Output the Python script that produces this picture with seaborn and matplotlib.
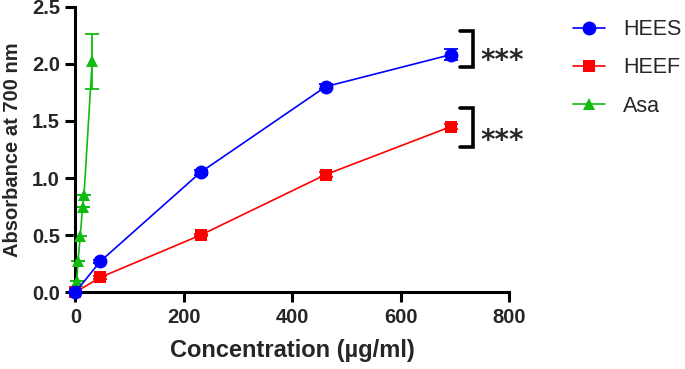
import matplotlib
matplotlib.use("Agg")
import matplotlib.pyplot as plt
import seaborn as sns
import pandas as pd
from matplotlib.lines import Line2D

# Data
hees_x = [0, 46, 231, 462, 693]
hees_y = [0.0, 0.27, 1.05, 1.80, 2.08]
hees_err = [0.0, 0.01, 0.02, 0.02, 0.05]

heef_x = [0, 46, 231, 462, 693]
heef_y = [0.0, 0.13, 0.50, 1.03, 1.45]
heef_err = [0.0, 0.01, 0.01, 0.02, 0.02]

asa_x = [2.5, 5, 9, 13.5, 16, 31]
asa_y = [0.10, 0.27, 0.49, 0.75, 0.85, 2.02]
asa_err = [0.0, 0.0, 0.0, 0.0, 0.0, 0.24]

series_names = ["HEES", "HEEF", "Asa"]
colors = {"HEES": "#0000FF", "HEEF": "#FF0000", "Asa": "#11BB11"}
markers = {"HEES": "o", "HEEF": "s", "Asa": "^"}
msizes = {"HEES": 10, "HEEF": 9, "Asa": 9}

df = pd.concat([
    pd.DataFrame({"x": hees_x, "y": hees_y, "err": hees_err, "s": "HEES"}),
    pd.DataFrame({"x": heef_x, "y": heef_y, "err": heef_err, "s": "HEEF"}),
    pd.DataFrame({"x": asa_x, "y": asa_y, "err": asa_err, "s": "Asa"}),
], ignore_index=True)

sns.set_theme(style="ticks")
plt.rcParams["font.family"] = ["Liberation Sans", "DejaVu Sans"]

fig = plt.figure(figsize=(6.85, 3.69), dpi=100)
ax = fig.add_axes([0.110, 0.208, 0.633, 0.774])

for name in series_names[::-1]:
    d = df[df["s"] == name]
    ax.errorbar(d["x"], d["y"], yerr=d["err"], fmt="none", ecolor=colors[name],
                elinewidth=1.3, capsize=5, capthick=1.3, clip_on=False, zorder=2)
    sns.lineplot(data=d, x="x", y="y", ax=ax, color=colors[name], marker=markers[name],
                 markersize=msizes[name], markeredgewidth=0, linewidth=1.2,
                 clip_on=False, zorder=3, legend=False, estimator=None)

ax.set_xlim(0, 800)
ax.set_ylim(0, 2.5)
ax.set_xticks([0, 200, 400, 600, 800])
ax.set_yticks([0, 0.5, 1.0, 1.5, 2.0, 2.5])
ax.set_yticklabels(["0.0", "0.5", "1.0", "1.5", "2.0", "2.5"])
for sp in ["top", "right"]:
    ax.spines[sp].set_visible(False)
for sp in ["left", "bottom"]:
    ax.spines[sp].set_linewidth(2.2)
    ax.spines[sp].set_color("black")
ax.tick_params(axis="both", length=7, width=2.2, color="black", labelsize=14.5, pad=4)
for lab in ax.get_xticklabels() + ax.get_yticklabels():
    lab.set_fontweight("bold")

ax.set_xlabel("Concentration (µg/ml)", fontsize=17, fontweight="bold", labelpad=9)
ax.set_ylabel("Absorbance at 700 nm", fontsize=14.5, fontweight="bold", labelpad=7)

# significance brackets
def bracket(y0, y1, ys):
    xa, xb = 710, 734
    ax.plot([xa, xb, xb, xa], [y1, y1, y0, y0], color="black", lw=2.6,
            clip_on=False, solid_joinstyle="miter")
    ax.text(748, ys, "***", fontsize=20, fontweight="bold", va="baseline",
            ha="left", clip_on=False, family="DejaVu Sans")

bracket(1.97, 2.29, 1.95)
bracket(1.27, 1.61, 1.25)

handles = [Line2D([0], [0], color=colors[n], marker=markers[n], markersize=msizes[n],
                  markeredgewidth=0, lw=1.2) for n in series_names]
fig.legend(handles, series_names, loc="upper left", bbox_to_anchor=(0.8365, 0.948),
           frameon=False, fontsize=15.5, handlelength=1.5, handletextpad=0.84,
           labelspacing=0.8, borderaxespad=0, borderpad=0)

fig.savefig("out.png", dpi=100)
